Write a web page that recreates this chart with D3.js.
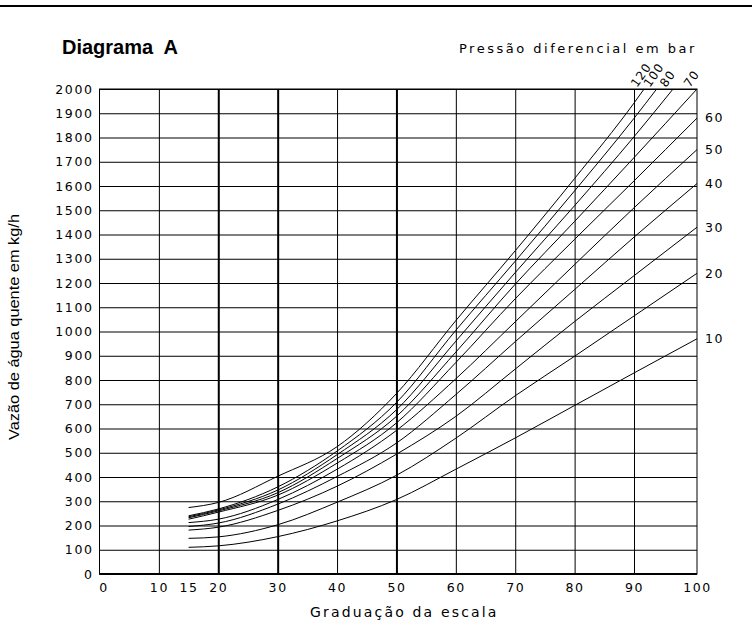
<!DOCTYPE html>
<html lang="pt">
<head>
<meta charset="UTF-8">
<title>Diagrama A</title>
<style>
  body { margin: 0; background: #fff; }
  svg { display: block; }
  .lbl { font-family: "DejaVu Sans", sans-serif; font-size: 12.5px; letter-spacing: 1.6px; fill: #000; }
  .curve { fill: none; stroke: #000; stroke-width: 1; }
</style>
</head>
<body>
<div id="chart"></div>
<script src="https://d3js.org/d3.v7.min.js"></script>
<script>
// scale graduation (x) where the curves were read
const grad = [15, 20, 30, 40, 50, 60, 70, 80, 90, 100];

// hot water flow in kg/h per differential pressure (bar)
const flow10  = [110, 116, 154, 219, 307, 432, 561, 695, 829, 970];
const flow20  = [147, 153, 203, 296, 407, 560, 735, 898, 1064, 1240];
const flow30  = [181, 193, 262, 362, 494, 650, 845, 1041, 1230, 1430];
const flow40  = [196, 210, 288, 402, 540, 740, 958, 1173, 1389, 1610];
const flow50  = [212, 226, 307, 432, 592, 805, 1040, 1276, 1510, 1750];
const flow60  = [226, 255, 325, 457, 623, 872, 1135, 1380, 1621, 1880];
const flow70  = [232, 260, 335, 476, 650, 915, 1195, 1454, 1717, 2000];
const flow80  = [236, 264, 346, 492, 677, 960, 1243, 1519, 1803, null];
const flow100 = [240, 268, 359, 507, 707, 1005, 1290, 1580, 1879, null];
const flow120 = [274, 295, 403, 525, 744, 1045, 1333, 1631, 1942, null];

const pressures = [10, 20, 30, 40, 50, 60, 70, 80, 100, 120];
const flows = [flow10, flow20, flow30, flow40, flow50, flow60, flow70, flow80, flow100, flow120];
// graduation where the top curves leave the chart at 2000 kg/h
const exitGrad = [null, null, null, null, null, null, null, 96.2, 93.6, 91.6];

const flowTicks = d3.range(0, 2001, 100);
const gradTicks = [0, 10, 15, 20, 30, 40, 50, 60, 70, 80, 90, 100];
const gradGrid = [10, 20, 30, 40, 50, 60, 70, 80, 90];
const heavyGrid = [20, 30, 50];
const rightLabels = [10, 20, 30, 40, 50, 60];
const topLabels = [70, 80, 100, 120];

const W = 752, H = 623;
const x = d3.scaleLinear().domain([0, 90, 100]).range([99.5, 634, 697]);
const y = d3.scaleLinear().domain([0, 2000]).range([574, 89]);

const svg = d3.select("#chart").append("svg")
    .attr("width", W)
    .attr("height", H);

// rule across the top
svg.append("line")
    .attr("x1", 0).attr("x2", W)
    .attr("y1", 6).attr("y2", 6)
    .attr("stroke", "#000").attr("stroke-width", 2);

svg.append("text")
    .attr("x", 62).attr("y", 54)
    .style("font", "bold 20px 'Liberation Sans', Arial, sans-serif")
    .style("white-space", "pre")
    .text("Diagrama  A");

svg.append("text")
    .attr("class", "lbl")
    .attr("x", 459).attr("y", 53)
    .attr("textLength", 237)
    .style("font-size", "13px")
    .text("Pressão diferencial em bar");

// horizontal grid + flow labels
const yAxis = svg.append("g")
    .attr("transform", `translate(${x(0)},0)`)
    .call(d3.axisLeft(y).tickValues(flowTicks).tickSize(-(x(100) - x(0))).tickPadding(6).tickFormat(d3.format("d")))
    .attr("font-family", null).attr("font-size", null);
yAxis.select(".domain").remove();
yAxis.selectAll("line").attr("stroke", "#000");
yAxis.selectAll("text").attr("class", "lbl");

// vertical grid
const xGrid = svg.append("g")
    .attr("transform", `translate(0,${y(0)})`)
    .call(d3.axisBottom(x).tickValues(gradGrid).tickSize(-(y(0) - y(2000))).tickFormat(""));
xGrid.select(".domain").remove();
xGrid.selectAll("line")
    .attr("stroke", "#000")
    .attr("stroke-width", d => heavyGrid.includes(d) ? 2 : 1);

// graduation labels
const xAxis = svg.append("g")
    .attr("transform", `translate(0,${y(0)})`)
    .call(d3.axisBottom(x).tickValues(gradTicks).tickSize(0).tickPadding(9.5))
    .attr("font-family", null).attr("font-size", null);
xAxis.select(".domain").remove();
xAxis.selectAll("text").attr("class", "lbl")
    .attr("dx", d => d === 0 ? 4 : 0);

// frame
svg.append("rect")
    .attr("x", x(0)).attr("y", y(2000))
    .attr("width", x(100) - x(0)).attr("height", y(0) - y(2000))
    .attr("fill", "none").attr("stroke", "#000").attr("stroke-width", 1);
svg.append("line")
    .attr("x1", x(0)).attr("x2", x(100))
    .attr("y1", y(0)).attr("y2", y(0))
    .attr("stroke", "#000").attr("stroke-width", 2);

// curves
const series = pressures.map((p, i) => {
    const pts = grad.map((g, j) => [g, flows[i][j]]).filter(d => d[1] != null);
    if (exitGrad[i] != null) pts.push([exitGrad[i], 2000]);
    return { p, pts };
});

const line = d3.line()
    .x(d => x(d[0]))
    .y(d => y(d[1]))
    .curve(d3.curveMonotoneX);

svg.append("g").selectAll("path")
    .data(series)
    .join("path")
    .attr("class", "curve")
    .attr("d", d => line(d.pts));

// pressure labels at the right edge
svg.append("g").selectAll("text")
    .data(series.filter(s => rightLabels.includes(s.p)))
    .join("text")
    .attr("class", "lbl")
    .attr("x", x(100) + 8)
    .attr("y", d => y(d.pts[d.pts.length - 1][1]))
    .attr("dy", "0.35em")
    .text(d => d.p);

// pressure labels above the top edge
svg.append("g").selectAll("text")
    .data(series.filter(s => topLabels.includes(s.p)))
    .join("text")
    .attr("class", "lbl")
    .style("font-size", "12px")
    .style("letter-spacing", "1px")
    .attr("transform", d => {
        const last = d.pts[d.pts.length - 1];
        return `translate(${x(last[0]) - 7},${y(2000) - 1}) rotate(-55)`;
    })
    .text(d => d.p);

svg.append("text")
    .attr("class", "lbl")
    .attr("x", 310).attr("y", 617)
    .attr("textLength", 188)
    .style("font-size", "14px")
    .text("Graduação da escala");

svg.append("text")
    .attr("transform", "translate(19,440) rotate(-90)")
    .attr("textLength", 226)
    .attr("lengthAdjust", "spacingAndGlyphs")
    .style("font", "14px 'Liberation Sans', Arial, sans-serif")
    .text("Vazão de água quente em kg/h");
</script>
</body>
</html>
